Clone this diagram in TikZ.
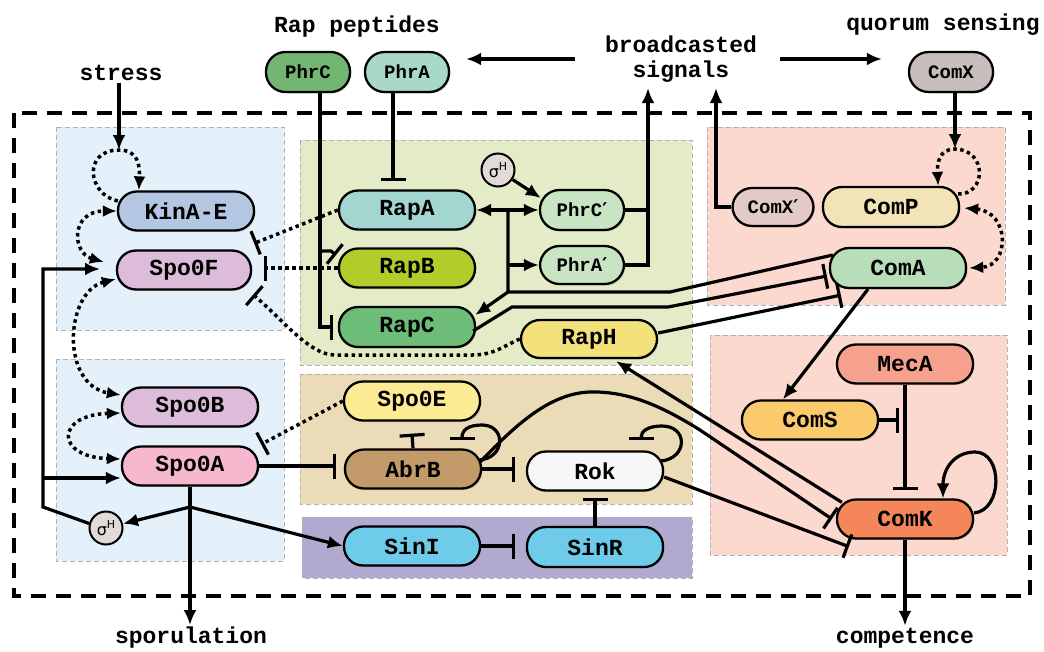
\documentclass[tikz,border=0pt]{standalone}
\usepackage{fontspec}
\setmainfont{Liberation Mono}
\newfontfamily\dejavu{DejaVu Sans}
\usetikzlibrary{arrows.meta,calc,shadows}
\pgfdeclarelayer{bg}
\pgfsetlayers{bg,main}
\definecolor{bgblue}{HTML}{E4F1FA}
\definecolor{bggreen}{HTML}{E3ECC6}
\definecolor{bgtan}{HTML}{EBDBB6}
\definecolor{bgpurple}{HTML}{B2A9D0}
\definecolor{bgpink}{HTML}{FBD9CE}
\definecolor{kinac}{HTML}{B3C7E2}
\definecolor{spofc}{HTML}{DDBCD9}
\definecolor{spoac}{HTML}{F5B8CF}
\definecolor{phrcc}{HTML}{72B672}
\definecolor{phrac}{HTML}{A8D8C8}
\definecolor{rapac}{HTML}{A4D6D1}
\definecolor{rapbc}{HTML}{B4CC2A}
\definecolor{rapcc}{HTML}{6DBD79}
\definecolor{phrpc}{HTML}{C8E4C3}
\definecolor{raphc}{HTML}{F3E27B}
\definecolor{spoec}{HTML}{FCEB92}
\definecolor{abrbc}{HTML}{C39A69}
\definecolor{rokc}{HTML}{F7F7F7}
\definecolor{sinc}{HTML}{6FCBEA}
\definecolor{comxc}{HTML}{C7BDBA}
\definecolor{comxpc}{HTML}{E3CAC7}
\definecolor{compc}{HTML}{F2E4B6}
\definecolor{comac}{HTML}{B8DDB9}
\definecolor{mecac}{HTML}{F6A18E}
\definecolor{comsc}{HTML}{FBCA6D}
\definecolor{comkc}{HTML}{F58659}
\definecolor{sigc}{HTML}{E2DAD6}
\newcommand\sigH{{\dejavu\fontsize{16}{16}\selectfont σ\raisebox{0.45em}{\fontsize{11}{11}\selectfont H}}}
\newcommand\prm{{\dejavu\bfseries ′}}
\begin{document}
\begin{tikzpicture}[x=1pt,y=-1pt,
  box/.style={draw, line width=2.3pt, rounded corners=19pt, minimum height=39pt, minimum width=136pt, inner sep=0pt,
    font={\fontsize{23}{25}\selectfont\bfseries},
    drop shadow={shadow xshift=1.5pt,shadow yshift=-1.5pt,opacity=0.25}},
  sbox/.style={box, rounded corners=19.5pt, minimum height=40pt, minimum width=84pt, font={\fontsize{19}{21}\selectfont\bfseries}},
  sig/.style={circle, draw, line width=2pt, fill=sigc, minimum size=33pt, inner sep=0pt},
  lab/.style={font={\fontsize{23}{25}\selectfont\bfseries}, inner sep=2pt, align=center},
  bgr/.style={draw=black!30, line width=0.8pt, dash pattern=on 5pt off 3pt},
  line/.style={line width=3.2pt},
  act/.style={line width=3.2pt, -{Latex[length=15pt,width=13pt]}},
  inh/.style={line width=3.2pt, -{Bar[width=25pt,line width=3.2pt]}},
  dotline/.style={line width=3.5pt, dash pattern=on 3.5pt off 3.5pt},
  dotact/.style={dotline, -{Latex[length=14pt,width=12pt]}},
  dotboth/.style={dotline, {Latex[length=14pt,width=12pt]}-{Latex[length=14pt,width=12pt]}},
  dotinh/.style={dotline, -{Bar[width=25pt,line width=3.2pt]}},
]
\useasboundingbox (0,0) rectangle (1044,651);

\begin{pgfonlayer}{bg}
\fill[white] (0,0) rectangle (1044,651);
\filldraw[bgr, fill=bgblue] (56,127) rectangle (284,330);
\filldraw[bgr, fill=bgblue] (56,359) rectangle (284,561);
\filldraw[bgr, fill=bggreen] (300,140) rectangle (692,365);
\filldraw[bgr, fill=bgtan] (300,374) rectangle (692,504);
\filldraw[bgr, fill=bgpurple] (302,517) rectangle (692,578);
\filldraw[bgr, fill=bgpink] (707,127) rectangle (1005,305);
\filldraw[bgr, fill=bgpink] (710,335) rectangle (1007,555);
\draw[line width=4pt, dash pattern=on 15pt off 10pt] (14,113) rectangle (1030,596);
\end{pgfonlayer}

% labels
\node[lab] (stress) at (121,73) {stress};
\node[lab] (rapp) at (357,27) {Rap peptides};
\node[lab] (bsig) at (681,59) {broadcasted\\signals};
\node[lab] (qs) at (943,25) {quorum sensing};
\node[lab] (spor) at (191,638) {sporulation};
\node[lab] (compt) at (905,638) {competence};

% nodes
\node[sbox, fill=phrcc] (phrc) at (308,72) {PhrC};
\node[sbox, fill=phrac] (phra) at (407,72) {PhrA};
\node[sbox, fill=comxc] (comx) at (951,72) {ComX};
\node[box, fill=kinac] (kina) at (186,211) {KinA-E};
\node[box, fill=spofc, minimum width=134pt] (spo0f) at (184,270) {Spo0F};
\node[box, fill=spofc] (spo0b) at (190,407) {Spo0B};
\node[box, fill=spoac] (spo0a) at (190,466) {Spo0A};
\node[box, fill=rapac] (rapa) at (407,210) {RapA};
\node[box, fill=rapbc] (rapb) at (407,268) {RapB};
\node[box, fill=rapcc, minimum height=40pt] (rapc) at (407,327) {RapC};
\node[sbox, fill=phrpc] (phrcp) at (582,210) {PhrC\prm};
\node[sbox, fill=phrpc, minimum height=38pt] (phrap) at (582,265) {PhrA\prm};
\node[sig] (sigh1) at (498,170) {\sigH};
\node[box, fill=raphc, minimum height=38pt] (raph) at (589,339) {RapH};
\node[box, fill=spoec] (spo0e) at (412,401) {Spo0E};
\node[box, fill=abrbc] (abrb) at (413,469) {AbrB};
\node[box, fill=rokc] (rok) at (595,471) {Rok};
\node[box, fill=sinc] (sini) at (412,546) {SinI};
\node[box, fill=sinc, minimum height=40pt] (sinr) at (595,547) {SinR};
\node[sbox, fill=comxpc, minimum width=81pt, minimum height=38pt] (comxp) at (773,207) {ComX\prm};
\node[box, fill=compc, minimum height=40pt] (comp) at (891,207) {ComP};
\node[box, fill=comac, minimum height=40pt] (coma) at (898,268) {ComA};
\node[box, fill=mecac] (meca) at (905,364) {MecA};
\node[box, fill=comsc] (coms) at (810,420) {ComS};
\node[box, fill=comkc] (comk) at (905,519) {ComK};
\node[sig] (sigh2) at (106,528) {\sigH};

% stress and KinA loop
\coordinate (kl) at (119,150);
\draw[act] (stress.south -| kl) -- (kl);
\draw[dotact] ($(kina.west)+(1,-10)$) .. controls (88,195) and (82,150) .. (kl) .. controls (138,150) and (140,165) .. ($(kina.north west)+(22,0)$);
% ComX and ComP loop
\coordinate (cl) at (955,149);
\draw[act] (comx.south -| cl) -- (cl);
\draw[dotact] ($(comp.east)+(-2,-13)$) .. controls (986,195) and (988,150) .. (cl) .. controls (939,149) and (937,163) .. ($(comp.north east)+(-22,0)$);
\draw[dotboth] ($(comp.east)+(4,1)$) .. controls (1010,212) and (1010,266) .. ($(coma.east)+(2,0)$);

% phosphorelay
\draw[dotboth] ($(spo0f.west)+(-12,-8)$) .. controls (72,253) and (70,211) .. (kina.west);
\draw[dotboth] ($(spo0f.west)+(0,9)$) .. controls (65,292) and (60,385) .. ($(spo0b.west)+(0,-12)$);
\draw[dotboth] ($(spo0b.west)+(0,6)$) .. controls (55,415) and (55,457) .. ($(spo0a.west)+(0,-7)$);

% sigmaH feedback
\coordinate (lb) at (43,507);
\coordinate (lt) at (43,269);
\coordinate (lf) at (100,269);
\draw[act] (sigh2.165) -- (lb) -- (lt) -- (lf);
\coordinate (la) at (43,478);
\draw[act] (la) -- ($(spo0a.west)+(0,12)$);

% Spo0A outputs
\coordinate (sb) at (190,507);
\draw[act] (spo0a.south) -- (spo0a.south |- spor.north);
\draw[act] (sb) -- (sigh2);
\draw[act] (sb) -- (sini.west);

% dotted inhibitions of the phosphorelay
\draw[dotinh] (rapa.west) -- ($(spo0f.north east)+(2,-6)$);
\draw[dotinh] (rapb.west) -- ($(spo0f.east |- rapb.west)+(12,0)$);
\draw[dotinh] (raph.west) .. controls (505,345) and (495,355) .. (472,355) -- (335,355) .. controls (310,355) and (285,322) .. ($(spo0f.south east)+(1,4)$);
\draw[dotinh] (spo0e.west) -- ($(spo0a.north east)+(2,-1)$);

% Phr peptides
\coordinate (pcx) at (320,100);
\draw[inh] (phrc.south -| pcx) -- (pcx |- rapc.west) -- ($(rapc.west)+(-5,0)$);
\coordinate (pcb) at (320,251);
\draw[inh] (pcb) -- (331,251) -- (336,255);
\coordinate (pax) at (393,100);
\draw[inh] (phra.south -| pax) -- ($(rapa.north -| pax)+(0,-8)$);
\draw[act] (sigh1) -- ($(phrcp.west)+(2,-12)$);

% ComA bundle
\coordinate (j1) at (508,292);
\coordinate (j2) at (508,210);
\coordinate (j3) at (508,265);
\draw[line] ($(coma.west)+(4,-13)$) -- (670,292) -- (j1) -- (j2);
\draw[act] (j2) -- (rapa.east);
\draw[act] (j2) -- (phrcp.west);
\draw[act] (j3) -- (phrap.west);
\draw[act] (j1) -- ($(rapc.east)+(-1,-12)$);
\draw[inh] ($(rapc.east)+(-3,4)$) -- (512,307) -- (668,307) -- ($(coma.west)+(-2,8)$);
\draw[inh] ($(raph.east)+(0,-6)$) -- ($(coma.south west)+(12,6)$);

% competence module
\draw[act] ($(coma.south)+(-30,0)$) -- ($(coms.north)+(-27,0)$);
\draw[inh] (coms.east) -- ($(coms.east)+(20,0)$);
\draw[inh] (meca.south) -- ($(comk.north)+(0,-8)$);
\draw[act] ($(comk.east)+(0,-6)$) .. controls (1003,510) and (1003,452) .. (975,452) .. controls (955,452) and (943,468) .. ($(comk.north)+(38,0)$);
\draw[act] (comk.south) -- (comk.south |- compt.north);
\draw[act] ($(comk.north west)+(6,4)$) -- ($(raph.south)+(27,2)$);
\draw[inh] ($(abrb.east)+(-2,-7)$) .. controls (520,420) and (555,390) .. (597,392) .. controls (630,393) and (660,405) .. (700,430) -- ($(comk.west)+(-4,0)$);
\draw[inh] ($(rok.east)+(0,6)$) -- ($(comk.south west)+(13,7)$);

% AbrB / Rok / Sin
\draw[inh] ($(abrb.east)+(-3,-9)$) .. controls (506,458) and (506,425) .. (482,425) .. controls (468,425) and (462,430) .. (462,440);
\draw[inh] ($(rok.east)+(-3,-10)$) .. controls (688,458) and (688,426) .. (662,426) .. controls (648,426) and (641,431) .. (641,440);
\draw[inh] (spo0a.east) -- ($(abrb.west |- spo0a.east)+(-8,0)$);
\draw[inh] (abrb.east) -- ($(rok.west |- abrb.east)+(-11,0)$);
\draw[inh] (abrb.north) -- ($(spo0e.south)+(0,12)$);
\draw[inh] (sinr.north) -- ($(rok.south)+(0,6)$);
\draw[inh] (sini.east) -- ($(sinr.west |- sini.east)+(-11,0)$);

% broadcasted signals
\coordinate (cxs) at (716,88);
\draw[act] (comxp.west) -- (cxs |- comxp.west) -- (cxs);
\coordinate (ps) at (648,88);
\draw[line] (phrcp.east) -- (ps |- phrcp.east);
\draw[act] (phrap.east) -- (ps |- phrap.east) -- (ps);
\draw[act] ($(bsig.west)+(-28,0)$) -- ($(phra.east |- bsig)+(16,0)$);
\draw[act] ($(bsig.east)+(21,0)$) -- ($(comx.west |- bsig)+(-26,0)$);
\end{tikzpicture}
\end{document}
